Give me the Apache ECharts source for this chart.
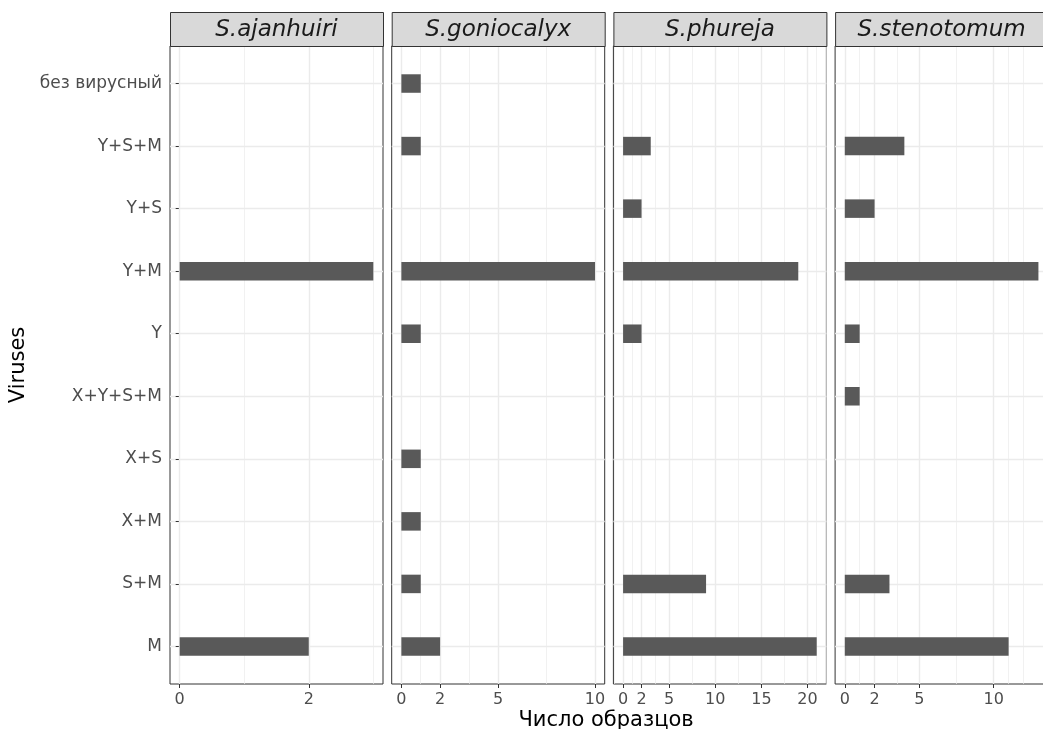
<!DOCTYPE html>
<html>
<head>
<meta charset="utf-8">
<script src="https://cdn.jsdelivr.net/npm/echarts@6/dist/echarts.min.js"></script>
<style>html,body{margin:0;padding:0;background:#fff;overflow:hidden}#c{width:1060px;height:729px}</style>
</head>
<body>
<div id="c"></div>
<script>
// ---- data ----
const categories = ['M', 'S+M', 'X+M', 'X+S', 'X+Y+S+M', 'Y', 'Y+M', 'Y+S', 'Y+S+M', 'без вирусный'];
const species = ['S.ajanhuiri', 'S.goniocalyx', 'S.phureja', 'S.stenotomum'];
const ajanhuiri   = [2, null, null, null, null, null, 3, null, null, null];
const goniocalyx  = [2, 1, 1, 1, null, 1, 10, null, 1, 1];
const phureja     = [21, 9, null, null, null, 2, 19, 2, 3, null];
const stenotomum  = [11, 3, null, null, 1, 1, 13, 2, 4, null];
const xBreaks = [0, 2, 5, 10, 15, 20];
const xTitle = 'Число образцов';
const yTitle = 'Viruses';

const panelValues = [ajanhuiri, goniocalyx, phureja, stenotomum];

// ---- layout ----
const P_LEFT0 = 170, P_STEP = 221.7, P_W = 213;
const P_TOP = 46, P_BOTTOM = 684;
const STRIP_TOP = 12;
const nCat = categories.length;
const catStep = (P_BOTTOM - P_TOP) / (nCat - 1 + 1.2);
const innerTop = P_TOP + 0.6 * catStep;
const innerH = (nCat - 1) * catStep;

const grids = [], xAxes = [], yAxes = [], series = [], graphics = [];

function minorBreaks(breaks, lo, hi) {
  let b = breaks.filter(v => v >= lo && v <= hi);
  const bd = b[1] - b[0];
  if (lo < b[0]) b = [b[0] - bd].concat(b);
  if (hi > b[b.length - 1]) b = b.concat([b[b.length - 1] + bd]);
  const out = [];
  for (let i = 0; i < b.length - 1; i++) { out.push(b[i]); out.push((b[i] + b[i + 1]) / 2); }
  out.push(b[b.length - 1]);
  return out.filter(v => v >= lo && v <= hi && !breaks.includes(v));
}

panelValues.forEach((vals, i) => {
  const left = P_LEFT0 + i * P_STEP;
  const maxV = Math.max(...vals.filter(v => v != null));
  const lo = -0.05 * maxV, hi = maxV * 1.05;
  const majors = xBreaks.filter(v => v >= lo && v <= hi);
  const minors = minorBreaks(xBreaks, lo, hi);

  grids.push({ left: left, top: P_TOP, width: P_W, height: P_BOTTOM - P_TOP, show: true,
               borderColor: '#333333', borderWidth: 1, backgroundColor: 'transparent' });
  grids.push({ left: left, top: innerTop, width: P_W, height: innerH, show: false });

  xAxes.push({ gridIndex: 2 * i, type: 'value', min: lo, max: hi,
    axisLine: { show: false },
    axisTick: { show: true, length: 4, lineStyle: { color: '#333333', width: 1 }, customValues: majors },
    axisLabel: { show: true, customValues: majors, color: '#4D4D4D', fontSize: 16, margin: 8,
                 fontFamily: 'DejaVu Sans' },
    splitLine: { show: false } });
  xAxes.push({ gridIndex: 2 * i + 1, type: 'value', min: lo, max: hi, show: false });

  yAxes.push({ gridIndex: 2 * i, type: 'value', min: 0, max: 1, show: false });
  yAxes.push({ gridIndex: 2 * i + 1, type: 'category', data: categories, boundaryGap: false,
    axisLine: { show: false },
    axisTick: { show: i === 0, length: 4, lineStyle: { color: '#333333', width: 1 } },
    axisLabel: { show: i === 0, color: '#4D4D4D', fontSize: 17, margin: 8, fontFamily: 'DejaVu Sans' },
    splitLine: { show: true, lineStyle: { color: '#EBEBEB', width: 1.4 } } });

  series.push({ type: 'scatter', xAxisIndex: 2 * i, yAxisIndex: 2 * i, data: [], z: 1, silent: true,
    markLine: { silent: true, z: 1, symbol: ['none', 'none'], animation: false, label: { show: false },
      data: majors.map(v => ({ xAxis: v, lineStyle: { color: '#EBEBEB', width: 1.4, type: 'solid' } }))
        .concat(minors.map(v => ({ xAxis: v, lineStyle: { color: '#EBEBEB', width: 0.7, type: 'solid' } }))) } });

  series.push({ type: 'bar', xAxisIndex: 2 * i + 1, yAxisIndex: 2 * i + 1, data: vals,
    barWidth: 18.5, clip: false, z: 6, itemStyle: { color: '#595959' } });

  graphics.push({ type: 'rect', left: left, top: STRIP_TOP, z: 10,
    shape: { width: P_W, height: P_TOP - STRIP_TOP },
    style: { fill: '#D9D9D9', stroke: '#333333', lineWidth: 1 } });
  graphics.push({ type: 'text', x: left + P_W / 2, y: (STRIP_TOP + P_TOP) / 2 + 1, z: 11,
    style: { text: species[i], fill: '#1A1A1A', fontSize: 23, fontStyle: 'italic',
             fontFamily: 'DejaVu Sans', textAlign: 'center', textVerticalAlign: 'middle' } });
});

graphics.push({ type: 'text', x: (P_LEFT0 + P_LEFT0 + 3 * P_STEP + P_W) / 2 - 3, y: 721, z: 11,
  style: { text: xTitle, fill: '#000000', fontSize: 21, fontFamily: 'DejaVu Sans',
           textAlign: 'center', textVerticalAlign: 'middle' } });
graphics.push({ type: 'text', x: 19, y: (P_TOP + P_BOTTOM) / 2, rotation: Math.PI / 2, z: 11,
  style: { text: yTitle, fill: '#000000', fontSize: 21, fontFamily: 'DejaVu Sans',
           textAlign: 'center', textVerticalAlign: 'middle' } });

const chart = echarts.init(document.getElementById('c'), null, { renderer: 'canvas' });
chart.setOption({
  animation: false,
  backgroundColor: '#ffffff',
  textStyle: { fontFamily: 'DejaVu Sans' },
  grid: grids, xAxis: xAxes, yAxis: yAxes, series: series, graphic: graphics
});
</script>
</body>
</html>
